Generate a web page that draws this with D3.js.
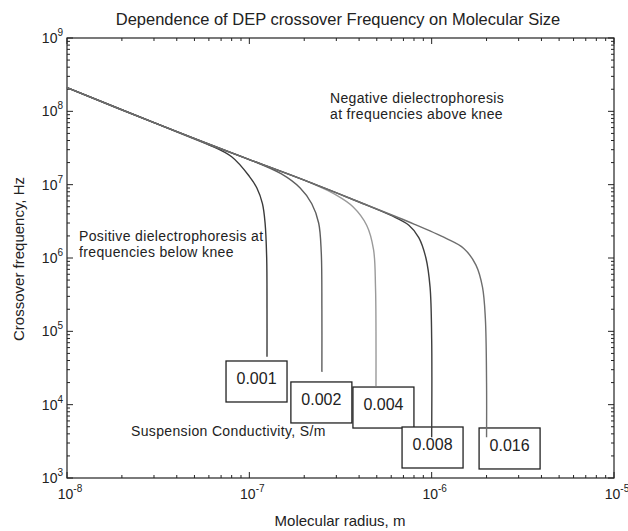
<!DOCTYPE html>
<html>
<head>
<meta charset="utf-8">
<script src="https://cdn.jsdelivr.net/npm/d3@7/dist/d3.min.js"></script>
<style>
  body { margin: 0; background: #fff; }
  svg { display: block; font-family: "Liberation Sans", Arial, sans-serif; }
</style>
</head>
<body>
<svg id="chart" width="628" height="531"></svg>
<script>
// datos
const conductivity = ["0.001", "0.002", "0.004", "0.008", "0.016"];

const radius001 = [1e-8, 3e-8, 6e-8, 8e-8, 1e-7, 1.1e-7, 1.18e-7, 1.22e-7, 1.245e-7, 1.25e-7, 1.25e-7];
const freq001   = [2.1e8, 7e7, 3.5e7, 2.4e7, 1.3e7, 9e6, 5.5e6, 3e6, 1e6, 2e5, 4.5e4];

const radius002 = [1e-8, 3e-8, 6e-8, 1e-7, 1.5e-7, 1.9e-7, 2.2e-7, 2.4e-7, 2.48e-7, 2.5e-7, 2.5e-7];
const freq002   = [2.1e8, 7e7, 3.5e7, 2.2e7, 1.4e7, 9e6, 5.5e6, 3e6, 1.2e6, 2e5, 2.8e4];

const radius004 = [1e-8, 3e-8, 1e-7, 2e-7, 3e-7, 3.7e-7, 4.4e-7, 4.8e-7, 4.92e-7, 4.95e-7, 4.95e-7];
const freq004   = [2.1e8, 7e7, 2.2e7, 1.15e7, 7.2e6, 5e6, 2.8e6, 1.3e6, 4e5, 1e5, 1.8e4];

const radius008 = [1e-8, 3e-8, 1e-7, 2e-7, 4e-7, 6e-7, 7.5e-7, 8.5e-7, 9.3e-7, 9.8e-7, 1e-6, 1e-6];
const freq008   = [2.1e8, 7e7, 2.2e7, 1.15e7, 5.8e6, 3.8e6, 2.8e6, 1.9e6, 1e6, 4e5, 8e4, 3.6e3];

const radius016 = [1e-8, 3e-8, 1e-7, 2e-7, 4e-7, 8e-7, 1.2e-6, 1.5e-6, 1.75e-6, 1.9e-6, 1.97e-6, 2e-6, 2e-6];
const freq016   = [2.1e8, 7e7, 2.2e7, 1.15e7, 5.8e6, 2.9e6, 1.85e6, 1.35e6, 8e5, 4e5, 1.5e5, 2e4, 3.6e3];

// posicion de las etiquetas (radio del borde izquierdo, frecuencia del borde superior)
const labelRadius = [7.45e-8, 1.69e-7, 3.7e-7, 6.88e-7, 1.82e-6];
const labelFreq   = [3.94e4, 2.04e4, 1.74e4, 4.96e3, 4.81e3];

const xTicks = [1e-8, 1e-7, 1e-6, 1e-5];
const yTicks = [1e3, 1e4, 1e5, 1e6, 1e7, 1e8, 1e9];

const radii = [radius001, radius002, radius004, radius008, radius016];
const freqs = [freq001, freq002, freq004, freq008, freq016];
const colors = ["#3a3a3a", "#5e5e5e", "#9a9a9a", "#3e3e3e", "#6e6e6e"];

// Configuracion
const width = 628, height = 531;
const margin = { top: 38, right: 14, bottom: 53, left: 67 };
const svg = d3.select("#chart");

const x = d3.scaleLog().domain([1e-8, 1e-5]).range([margin.left, width - margin.right]);
const y = d3.scaleLog().domain([1e3, 1e9]).range([height - margin.bottom, margin.top]);

const x0 = margin.left, x1 = width - margin.right;
const y0 = height - margin.bottom, y1 = margin.top;

// ticks menores y mayores en los cuatro lados
const allX = x.ticks(30);
const allY = y.ticks(60);
const isMajor = v => Math.abs(Math.log10(v) - Math.round(Math.log10(v))) < 1e-9;
const tickG = svg.append("g").attr("stroke", "#222").attr("stroke-width", 1);

allX.forEach(v => {
  const len = isMajor(v) ? 6 : 3;
  tickG.append("line").attr("x1", x(v)).attr("x2", x(v)).attr("y1", y0).attr("y2", y0 - len);
  tickG.append("line").attr("x1", x(v)).attr("x2", x(v)).attr("y1", y1).attr("y2", y1 + len);
});
allY.forEach(v => {
  const len = isMajor(v) ? 6 : 3;
  tickG.append("line").attr("y1", y(v)).attr("y2", y(v)).attr("x1", x0).attr("x2", x0 + len);
  tickG.append("line").attr("y1", y(v)).attr("y2", y(v)).attr("x1", x1).attr("x2", x1 - len);
});

// Marco
svg.append("rect")
  .attr("x", x0).attr("y", y1)
  .attr("width", x1 - x0).attr("height", y0 - y1)
  .attr("fill", "none").attr("stroke", "#222").attr("stroke-width", 1.2);

// Etiquetas de los ejes
function powerLabel(g, v, px, py, anchor) {
  const t = g.append("text").attr("x", px).attr("y", py)
    .attr("text-anchor", anchor).attr("font-size", 14).attr("fill", "#222");
  t.append("tspan").text("10");
  t.append("tspan").attr("dy", -7).attr("font-size", 10).text(Math.round(Math.log10(v)));
}
const labelG = svg.append("g");
xTicks.forEach(v => powerLabel(labelG, v, x(v) + 3, 499, "middle"));
yTicks.forEach(v => powerLabel(labelG, v, 63, y(v) + 5, "end"));

svg.append("text").attr("x", 340).attr("y", 526).attr("text-anchor", "middle")
  .attr("font-size", 15).attr("fill", "#222").text("Molecular radius, m");

svg.append("text").attr("transform", "translate(24,259) rotate(-90)")
  .attr("text-anchor", "middle").attr("font-size", 15).attr("fill", "#222")
  .text("Crossover frequency, Hz");

svg.append("text").attr("x", 338).attr("y", 25).attr("text-anchor", "middle")
  .attr("font-size", 16.5).attr("fill", "#222")
  .text("Dependence of DEP crossover Frequency on Molecular Size");

// Cajas de conductividad
const boxW = 61, boxH = 41;
const boxG = svg.append("g");
conductivity.forEach((c, i) => {
  const bx = x(labelRadius[i]), by = y(labelFreq[i]);
  boxG.append("rect").attr("x", bx).attr("y", by).attr("width", boxW).attr("height", boxH)
    .attr("fill", "#fff").attr("stroke", "#222").attr("stroke-width", 1.3);
  boxG.append("text").attr("x", bx + boxW / 2).attr("y", by + 23)
    .attr("text-anchor", "middle").attr("font-size", 16).attr("fill", "#222").text(c);
});

// Curvas
const line = d3.line()
  .x(d => x(d[0]))
  .y(d => y(d[1]))
  .curve(d3.curveCatmullRom.alpha(0.5));

radii.forEach((r, i) => {
  svg.append("path")
    .datum(r.map((v, j) => [v, freqs[i][j]]))
    .attr("d", line)
    .attr("fill", "none")
    .attr("stroke", colors[i])
    .attr("stroke-width", 1.4);
});

// Anotaciones
function note(lines, px, py) {
  const t = svg.append("text").attr("x", px).attr("y", py)
    .attr("font-size", 14).attr("letter-spacing", 0.35).attr("fill", "#222");
  lines.forEach((s, k) => t.append("tspan").attr("x", px).attr("dy", k ? 16 : 0).text(s));
}
note(["Negative dielectrophoresis", "at frequencies above knee"], 330, 103);
note(["Positive dielectrophoresis at", "frequencies below knee"], 79, 241);
note(["Suspension Conductivity, S/m"], 131, 436);
</script>
</body>
</html>
